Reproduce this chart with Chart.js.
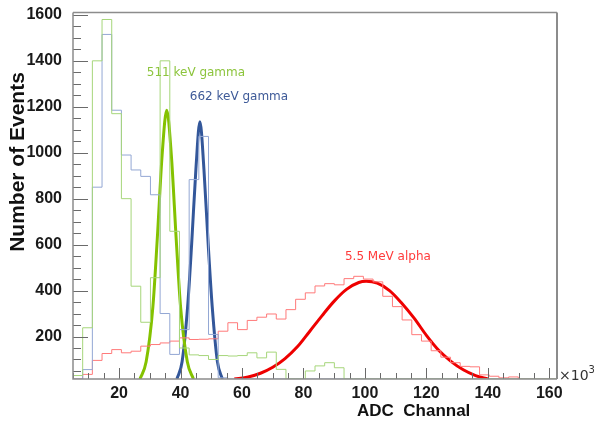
<!DOCTYPE html>
<html>
<head>
<meta charset="utf-8">
<script src="https://cdn.jsdelivr.net/npm/chart.js@4.4.1/dist/chart.umd.min.js"></script>
<style>
  html, body { margin: 0; padding: 0; background: #fff; }
  #wrap { width: 595px; height: 421px; }
</style>
</head>
<body>
<div id="wrap"><canvas id="chartContainer" width="595" height="421"></canvas></div>
<script>
// histogram binning (ADC channel, x10^3)
const binStart = 5;
const binWidth = 3.15;

// counts per bin, 50 bins
const counts511 = [30, 238, 1400, 1580, 1170, 800, 419, 262, 456, 1400,
                   658, 150, 120, 117, 100, 117, 115, 117, 129, 107,
                   132, 57, 15, 15, 50, 72, 86, 64, 15, 15,
                   15, 15, 15, 15, 15, 15, 15, 15, 15, 15,
                   15, 15, 15, 15, 15, 15, 15, 15, 15, 15];
const counts662 = [15, 56, 850, 1515, 1185, 990, 925, 897, 817, 300,
                   122, 230, 883, 1071, 209, 20, 15, 15, 15, 15,
                   15, 15, 15, 15, 15, 15, 15, 15, 15, 15,
                   15, 15, 15, 15, 15, 15, 15, 15, 15, 15,
                   15, 15, 15, 15, 15, 15, 15, 15, 15, 15];
const countsAlpha = [15, 35, 96, 126, 143, 129, 136, 158, 165, 172,
                     180, 194, 187, 188, 190, 223, 260, 230, 270, 284,
                     298, 276, 317, 362, 390, 420, 430, 425, 452, 462,
                     450, 438, 375, 330, 272, 208, 180, 138, 110, 86,
                     70, 68, 33, 27, 20, 24, 15, 15, 15, 15];

// fitted peaks
const fit511X = [26.8, 28.8, 31.0, 32.4, 34.0, 35.5, 37.0, 38.6, 40.0, 42.2, 44.2];
const fit511Y = [15, 90, 330, 620, 990, 1185, 990, 620, 330, 90, 15];
const fit662X = [38.8, 40.5, 42.3, 43.6, 45.0, 46.3, 47.6, 49.0, 50.3, 52.0, 53.6];
const fit662Y = [15, 90, 330, 600, 930, 1135, 930, 600, 330, 90, 15];
const fitAlphaX = [57.5, 62, 66, 70, 74, 78, 82, 86, 90, 94, 98, 100.4,
                   104, 108, 112, 116, 120, 124, 128, 132, 136, 140];
const fitAlphaY = [15, 24, 40, 66, 104, 155, 222, 290, 354, 405, 435, 440,
                   432, 400, 345, 280, 205, 140, 92, 55, 30, 15];

// labels
const xTicks = [20, 40, 60, 80, 100, 120, 140, 160];
const yTicks = [200, 400, 600, 800, 1000, 1200, 1400, 1600];
const peakLabels = [
    { text: '511 keV gamma', x: 29.0, y: 1346, color: '#8cc43c' },
    { text: '662 keV gamma', x: 43.0, y: 1242, color: '#3e5a98' },
    { text: '5.5 MeV alpha', x: 93.5, y: 545, color: '#ff3a3a' }
];

function histPoints(counts) {
    const pts = counts.map((c, i) => ({ x: binStart + i * binWidth, y: c }));
    pts.push({ x: binStart + counts.length * binWidth, y: counts[counts.length - 1] });
    return pts;
}

function curvePoints(xs, ys) {
    return xs.map((x, i) => ({ x: x, y: ys[i] }));
}

// ROOT-like frame: ticks inside, grey box
const rootFrame = {
    id: 'rootFrame',
    afterDatasetsDraw(chart) {
        const { ctx, chartArea: a, scales: { x, y } } = chart;
        ctx.save();
        ctx.strokeStyle = '#6a6a6a';
        ctx.lineWidth = 1;
        ctx.beginPath();
        for (let v = 50; v <= 1600; v += 50) {
            const py = Math.round(y.getPixelForValue(v)) + 0.5;
            const len = v % 200 === 0 ? 15 : 8;
            ctx.moveTo(a.left, py);
            ctx.lineTo(a.left + len, py);
        }
        for (let u = 5; u <= 160; u += 5) {
            const px = Math.round(x.getPixelForValue(u)) + 0.5;
            const len = u % 20 === 0 ? 11 : 6;
            ctx.moveTo(px, a.bottom);
            ctx.lineTo(px, a.bottom - len);
        }
        ctx.stroke();

        ctx.strokeStyle = '#8c8c8c';
        ctx.lineWidth = 1.5;
        ctx.beginPath();
        ctx.moveTo(a.left, a.top);
        ctx.lineTo(a.right, a.top);
        ctx.moveTo(a.left, a.top);
        ctx.lineTo(a.left, a.bottom);
        ctx.lineTo(a.right, a.bottom);
        ctx.stroke();
        ctx.lineWidth = 2;
        ctx.beginPath();
        ctx.moveTo(a.right, a.top);
        ctx.lineTo(a.right, a.bottom);
        ctx.stroke();
        ctx.restore();
    },
    afterDraw(chart) {
        const { ctx, chartArea: a, scales: { x, y } } = chart;
        ctx.save();
        // peak labels
        ctx.font = '12px "DejaVu Sans"';
        ctx.textAlign = 'left';
        ctx.textBaseline = 'middle';
        peakLabels.forEach(l => {
            ctx.fillStyle = l.color;
            ctx.fillText(l.text, x.getPixelForValue(l.x), y.getPixelForValue(l.y));
        });
        // axis titles
        ctx.fillStyle = '#111';
        ctx.font = 'bold 17px "Liberation Sans"';
        ctx.fillText('ADC  Channal', 357, a.bottom + 32);
        ctx.save();
        ctx.translate(18, 162);
        ctx.rotate(-Math.PI / 2);
        ctx.textAlign = 'center';
        ctx.font = 'bold 21px "Liberation Sans"';
        ctx.fillText('Number of Events', 0, 0);
        ctx.restore();
        // x10^3 exponent
        ctx.fillStyle = '#333';
        ctx.font = '14px "DejaVu Sans"';
        ctx.textBaseline = 'alphabetic';
        ctx.fillText('\u00d710', a.right + 2, a.bottom + 1);
        const w = ctx.measureText('\u00d710').width;
        ctx.font = '10px "DejaVu Sans"';
        ctx.fillText('3', a.right + 2 + w, a.bottom - 6);
        ctx.restore();
    }
};

function histSet(label, counts, color) {
    return {
        label: label,
        data: histPoints(counts),
        stepped: true,
        borderColor: color,
        borderWidth: 1,
        pointRadius: 0,
        fill: false
    };
}

function fitSet(label, xs, ys, color) {
    return {
        label: label,
        data: curvePoints(xs, ys),
        cubicInterpolationMode: 'monotone',
        borderColor: color,
        borderWidth: 3,
        pointRadius: 0,
        fill: false
    };
}

new Chart(document.getElementById('chartContainer').getContext('2d'), {
    type: 'line',
    data: {
        datasets: [
            histSet('511 keV', counts511, '#a6d67a'),
            histSet('662 keV', counts662, '#93a7d4'),
            histSet('alpha', countsAlpha, '#ff7a7a'),
            fitSet('511 fit', fit511X, fit511Y, '#84c200'),
            fitSet('662 fit', fit662X, fit662Y, '#33579a'),
            fitSet('alpha fit', fitAlphaX, fitAlphaY, '#ee0000')
        ]
    },
    options: {
        responsive: false,
        animation: false,
        layout: { padding: { top: 12, right: 38, left: 0, bottom: 0 } },
        plugins: { legend: { display: false }, tooltip: { enabled: false } },
        scales: {
            x: {
                type: 'linear',
                min: binStart,
                max: 162.5,
                grid: { display: false },
                border: { display: false },
                afterFit: s => { s.height = 42; },
                afterBuildTicks: s => { s.ticks = xTicks.map(v => ({ value: v })); },
                ticks: {
                    maxRotation: 0,
                    padding: -3,
                    color: '#1a1a1a',
                    callback: v => String(v),
                    font: { family: '"Liberation Sans"', size: 16, weight: 'bold' }
                }
            },
            y: {
                type: 'linear',
                min: 15,
                max: 1610,
                grid: { display: false },
                border: { display: false },
                afterFit: s => { s.width = 73; },
                afterBuildTicks: s => { s.ticks = yTicks.map(v => ({ value: v })); },
                ticks: {
                    padding: 3,
                    color: '#1a1a1a',
                    callback: v => String(v),
                    font: { family: '"Liberation Sans"', size: 16, weight: 'bold' }
                }
            }
        }
    },
    plugins: [rootFrame]
});
</script>
</body>
</html>
